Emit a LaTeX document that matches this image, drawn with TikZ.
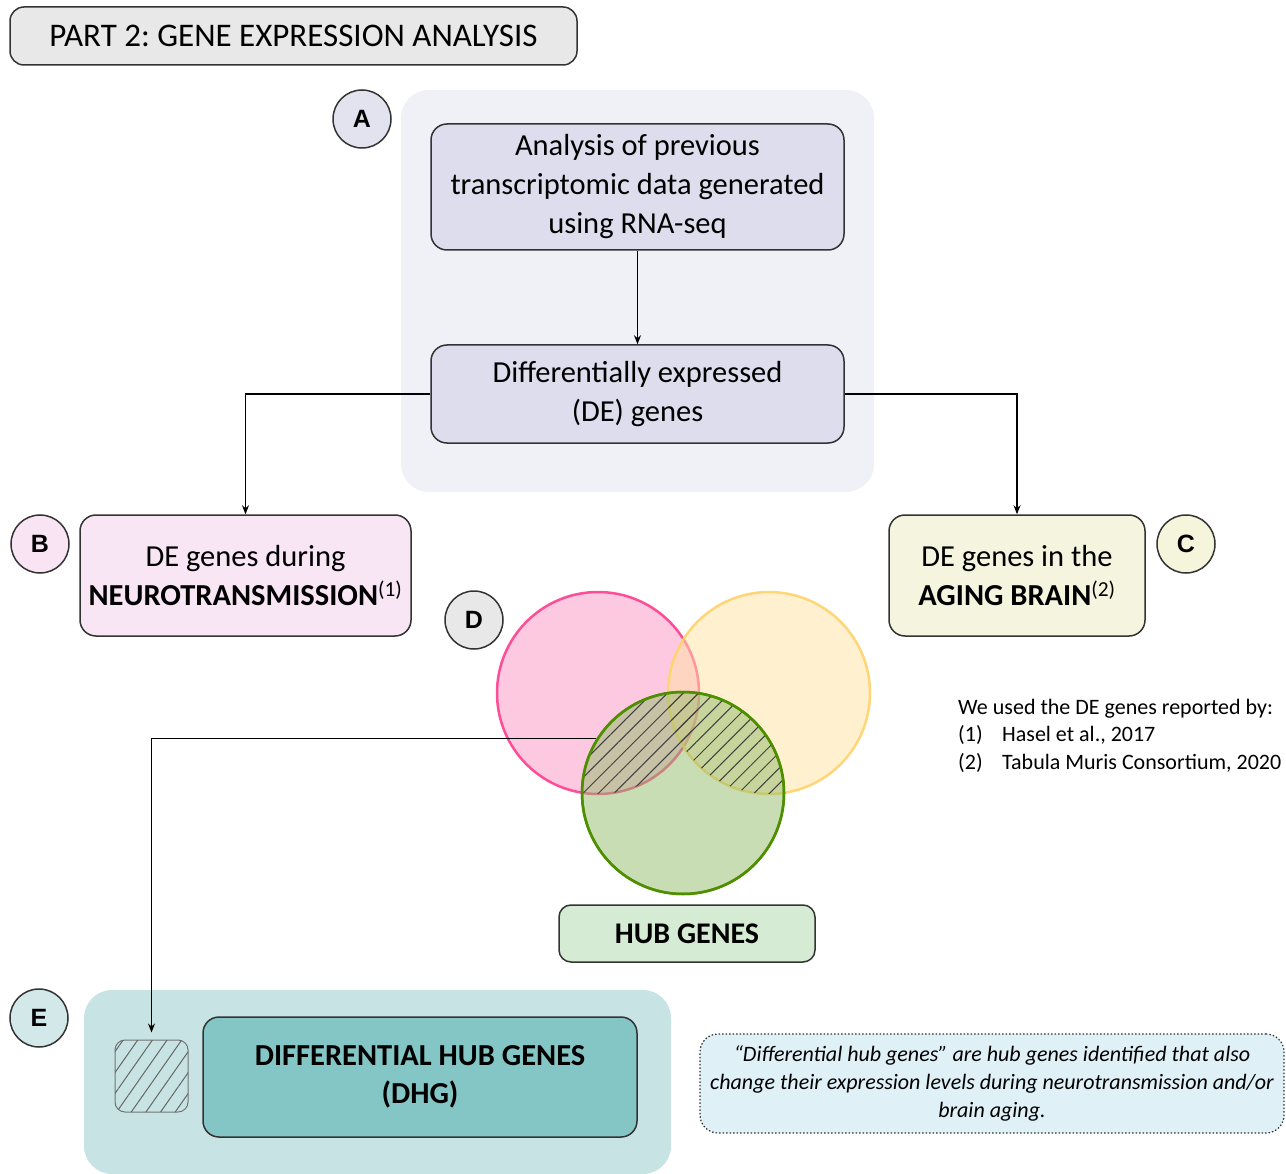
\documentclass[tikz,border=0pt]{standalone}
\usepackage{fontspec}
\setmainfont{Carlito}
\newfontfamily\letterfont{Liberation Sans}
\usetikzlibrary{arrows.meta,patterns.meta}
\frenchspacing
\definecolor{titlegray}{HTML}{E8E8E8}
\definecolor{panelA}{HTML}{F0F0F7}
\definecolor{boxA}{HTML}{DDDDED}
\definecolor{pinkbox}{HTML}{F9E6F5}
\definecolor{yellowbox}{HTML}{F5F5DF}
\definecolor{hubgreen}{HTML}{D5EBD3}
\definecolor{panelE}{HTML}{C8E3E3}
\definecolor{dhgteal}{HTML}{84C6C6}
\definecolor{notebg}{HTML}{DFF0F6}
\definecolor{tagA}{HTML}{E3E3F0}
\definecolor{tagB}{HTML}{F9E4F4}
\definecolor{tagC}{HTML}{F5F5DC}
\definecolor{tagD}{HTML}{E8E8E8}
\definecolor{tagE}{HTML}{D3E9E9}
\definecolor{vennN}{RGB}{251,147,195}
\definecolor{vennNline}{HTML}{FF3D8F}
\definecolor{vennA}{RGB}{255,225,159}
\definecolor{vennAline}{HTML}{FFD36B}
\definecolor{vennH}{RGB}{145,187,105}
\definecolor{vennHline}{HTML}{4E8F00}

\begin{document}
\begin{tikzpicture}[x=1pt,y=-1pt,
  box/.style={draw=black!80,line width=1.5pt,rounded corners=16pt,align=center,
    inner sep=0pt,font=\fontsize{30.5}{39}\selectfont},
  tag/.style={circle,draw=black!80,line width=1.5pt,minimum size=58pt,inner sep=0pt,
    font=\letterfont\bfseries\fontsize{25}{25}\selectfont},
  venn/.style={circle,minimum size=202pt,inner sep=0pt,line width=2.5pt,fill opacity=.5},
  link/.style={-{Stealth[length=9pt,width=7pt]},line width=1.2pt},
  hatch/.style={pattern={Lines[angle=45,distance=11pt,line width=1pt]},pattern color=black!75}]
\useasboundingbox (0,0) rectangle (1286,1174);

\node[box,fill=titlegray,minimum width=567pt,minimum height=58pt,rounded corners=14pt,
  font=\fontsize{33}{39}\selectfont] (title) at (293.5,36) {PART 2: GENE EXPRESSION ANALYSIS};

\node[fill=panelA,rounded corners=28pt,minimum width=473pt,minimum height=402pt] (partA) at (637.5,291) {};
\node[box,fill=boxA,minimum width=413pt,minimum height=126pt] (analysis) at (637.5,187)
  {Analysis of previous\\transcriptomic data generated\\using RNA-seq};
\node[box,fill=boxA,minimum width=413pt,minimum height=98pt] (degenes) at (637.5,394)
  {Differentially expressed\\(DE) genes};
\node[tag,fill=tagA] (lblA) at (362,119) {A};

\node[box,fill=pinkbox,minimum width=331pt,minimum height=121pt] (neuro) at (245.5,575.5)
  {DE genes during\\{\bfseries NEUROTRANSMISSION}\textsuperscript{(1)}};
\node[tag,fill=tagB] (lblB) at (40,544) {B};

\node[box,fill=yellowbox,minimum width=256pt,minimum height=121pt] (aging) at (1017,575.5)
  {DE genes in the\\{\bfseries AGING BRAIN}\textsuperscript{(2)}};
\node[tag,fill=tagC] (lblC) at (1186,544) {C};

\draw[link] (analysis) -- (degenes);
\draw[link] (degenes.west) -| (neuro.north);
\draw[link] (degenes.east) -| (aging.north);

\node[tag,fill=tagD] (lblD) at (474,620) {D};
\node[venn,fill=vennN,draw=vennNline,draw opacity=.9] (setN) at (598,693) {};
\node[venn,fill=vennA,draw=vennAline,draw opacity=.9] (setA) at (769,693) {};
\node[venn,fill=vennH,draw=vennHline,draw opacity=1] (setH) at (683,793) {};
\begin{scope}
  \clip (683,793) circle (100);
  \fill[hatch] (598,693) circle (101);
  \fill[hatch] (769,693) circle (101);
\end{scope}
\draw[vennHline,line width=2.5pt] (683,793) circle (101);

\node[box,fill=hubgreen,minimum width=256pt,minimum height=57pt,rounded corners=12pt,
  font=\bfseries\fontsize{30}{35}\selectfont] (hub) at (687,933.5) {HUB GENES};

\node[anchor=north west,align=left,inner sep=0pt,font=\fontsize{22}{27.5}\selectfont] (refs) at (958,699)
  {We used the DE genes reported by:\\
   \makebox[44pt][l]{(1)}Hasel et al., 2017\\
   \makebox[44pt][l]{(2)}Tabula Muris Consortium, 2020};

\node[fill=panelE,rounded corners=28pt,minimum width=587pt,minimum height=184pt] (partE) at (377.5,1082) {};
\node[tag,fill=tagE] (lblE) at (39,1018) {E};
\node[draw=black!55,line width=1pt,fill=panelE,rounded corners=10pt,minimum width=73pt,minimum height=72pt,
  postaction={pattern={Lines[angle=55,distance=12pt,line width=1pt]},pattern color=black!60}] (hatchbox) at (151.5,1076) {};
\node[box,fill=dhgteal,minimum width=434pt,minimum height=120pt,
  font=\bfseries\fontsize{30.5}{38}\selectfont] (dhg) at (420,1077) {DIFFERENTIAL HUB GENES\\(DHG)};
\draw[link,shorten >=7pt] (setH.148) -| (hatchbox.north);

\node[box,fill=notebg,dotted,line width=1.2pt,minimum width=584pt,minimum height=99pt,rounded corners=18pt,
  font=\itshape\fontsize{22}{28}\selectfont] (note) at (992,1083.5)
  {``Differential hub genes'' are hub genes identified that also\\change their expression levels during neurotransmission and/or\\brain aging.};
\end{tikzpicture}
\end{document}
